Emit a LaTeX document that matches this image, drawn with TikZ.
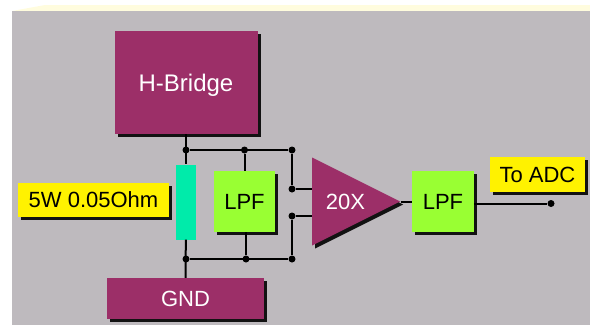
\documentclass[tikz,border=0pt]{standalone}
\usepackage{fontspec}
\setmainfont{Liberation Sans}
\usepackage{color}
\definecolor{PANEL}{RGB}{190,186,190}
\definecolor{STRIP}{RGB}{255,252,222}
\definecolor{MAROON}{RGB}{156,47,104}
\definecolor{LIME}{RGB}{153,255,51}
\definecolor{TEAL}{RGB}{0,235,170}
\usetikzlibrary{shapes,shapes.geometric,shadows,positioning}
\tikzset{hardshadow/.style={drop shadow={shadow xshift=3pt, shadow yshift=-3pt, fill=black, opacity=0.9}}}
\tikzset{block/.style={rectangle, hardshadow, fill=MAROON, text=white, inner sep=0pt, text depth=0pt, font=\fontsize{22}{24}\selectfont}}
\tikzset{filter/.style={rectangle, hardshadow, fill=LIME, text=black, inner sep=0pt, text depth=0pt, minimum width=61.5pt, minimum height=61pt, font=\fontsize{22}{24}\selectfont}}
\tikzset{tag/.style={rectangle, hardshadow, fill=yellow, text=black, inner sep=0pt, text depth=0pt, font=\fontsize{22}{24}\selectfont}}
\tikzset{shunt/.style={rectangle, fill=TEAL, inner sep=0pt, minimum width=20pt, minimum height=75pt}}
\tikzset{amp/.style={isosceles triangle, isosceles triangle stretches, hardshadow, fill=MAROON, text=white, inner sep=0pt, text depth=0pt, minimum width=88pt, minimum height=88pt, font=\fontsize{22}{24}\selectfont}}
\tikzset{dot/.style={circle, fill=black, inner sep=0pt, minimum size=7pt}}
\tikzset{line/.style={draw, line width=2pt}}

\begin{document}
\begin{tikzpicture}[x=1pt, y=-1pt]
        \useasboundingbox (0,0) rectangle (590,325);
        \fill[STRIP] (12,11) -- (45,5) -- (590,5) -- (590,11) -- cycle;
        \fill[PANEL] (12,11) rectangle (590,325);

        \node[block, minimum width=143pt, minimum height=103pt, font=\fontsize{24}{26}\selectfont] (hbridge) at (186,82.5) {H-Bridge};
        \node[block, minimum width=157pt, minimum height=41pt]  (gnd) at (185.5,298.5) {GND};
        \node[shunt] (shunt) at (186,202) {};
        \node[tag, minimum width=151pt, minimum height=34pt] (shunttag) at (93.5,200) {5W 0.05Ohm};
        \node[filter] (lpfa) at (244.5,201.5) {LPF};
        \node[amp, anchor=apex] (amp) at (400.7,201.5) {\hspace*{5pt}20X};
        \node[filter] (lpfb) at (443,201.5) {LPF};
        \node[tag, minimum width=95pt, minimum height=35pt] (adctag) at (537.5,174.5) {To ADC};

        \node[dot] (topa) at (186,150) {};
        \node[dot] (topb) at (244.5,150) {};
        \node[dot] (topc) at (292,150) {};
        \node[dot] (ina)  at (292,189) {};
        \node[dot] (inb)  at (292,216) {};
        \node[dot] (lowa) at (186,259) {};
        \node[dot] (lowb) at (246,259) {};
        \node[dot] (lowc) at (292,259) {};
        \node[dot] (adc)  at (551,203.5) {};

        \path[line] (hbridge) -- (shunt);
        \path[line] (shunt) -- (gnd);
        \path[line] (topa) -- (topc);
        \path[line] (topb) -- (lpfa);
        \path[line] (topc) -- (ina);
        \path[line] (ina) -- (ina -| amp.lower side);
        \path[line] (inb) -- (inb -| amp.lower side);
        \path[line] (inb) -- (lowc);
        \path[line] (lowa) -- (lowc);
        \path[line] (lowb) -- (lowb |- lpfa.south);
        \path[line] (amp.apex) -- (lpfb);
        \path[line] (lpfb.east |- adc) -- (adc);
     \end{tikzpicture}
\end{document}
